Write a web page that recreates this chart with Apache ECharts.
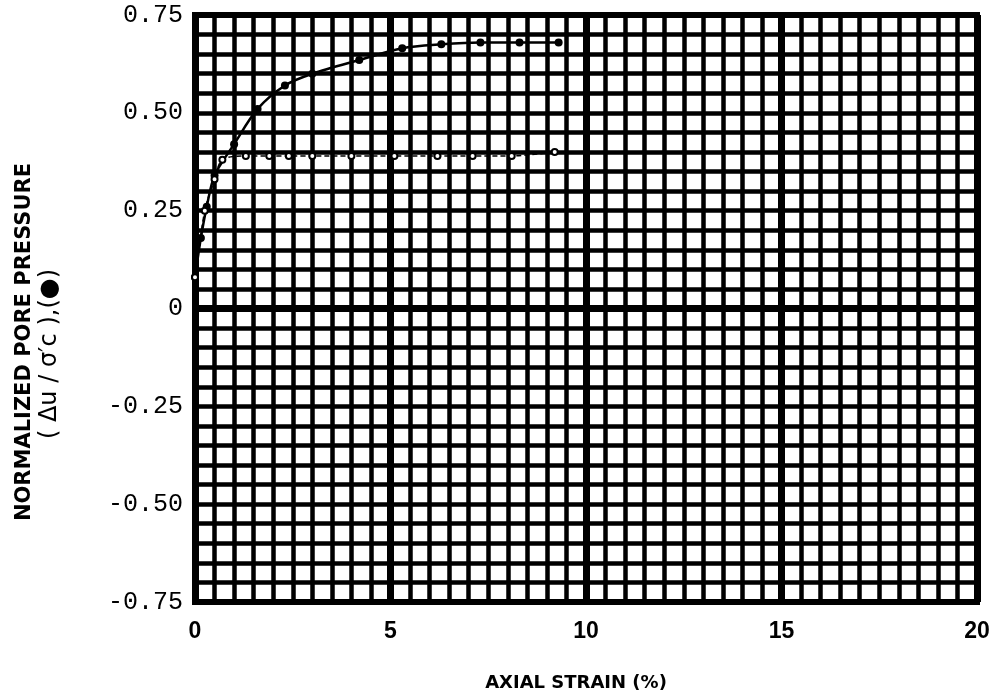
<!DOCTYPE html>
<html>
<head>
<meta charset="utf-8">
<title>Normalized pore pressure vs axial strain</title>
<script src="https://cdn.jsdelivr.net/npm/echarts@6/dist/echarts.min.js"></script>
<style>
    html, body {
        margin: 0;
        padding: 0;
        background: #fff;
    }

    #chart {
        width: 1000px;
        height: 698px;
    }
</style>
</head>
<body>
<div id="chart"></div>
<script>
// axial strain (%) / normalized pore pressure
const filledStrain = [0, 0.15, 0.3, 0.5, 1.0, 1.6, 2.3, 3.0, 4.2, 5.3, 6.3, 7.3, 8.3, 9.3]
const filledPressure = [0.08, 0.18, 0.26, 0.34, 0.42, 0.51, 0.57, 0.60, 0.635, 0.665, 0.675, 0.68, 0.68, 0.68]

const openStrain = [0, 0.25, 0.5, 0.7, 1.3, 1.9, 2.4, 3.0, 4.0, 5.1, 6.2, 7.1, 8.1, 9.2]
const openPressure = [0.08, 0.25, 0.33, 0.38, 0.39, 0.39, 0.39, 0.39, 0.39, 0.39, 0.39, 0.39, 0.39, 0.40]

const xTicks = [0, 5, 10, 15, 20]
const yTicks = [-0.75, -0.5, -0.25, 0, 0.25, 0.5, 0.75]

const pairUp = (xs, ys) => xs.map((x, i) => [x, ys[i]])

const chart = echarts.init(document.getElementById('chart'))

const options = {
    backgroundColor: '#fff',
    animation: false,
    grid: {
        left: 195,
        right: 23,
        top: 15,
        bottom: 96,
        show: true,
        borderColor: '#000',
        borderWidth: 6
    },
    xAxis: {
        type: 'value',
        min: xTicks[0],
        max: xTicks[xTicks.length - 1],
        interval: 5,
        axisLine: {show: true, lineStyle: {color: '#000', width: 6}},
        axisTick: {show: false},
        axisLabel: {
            color: '#000',
            fontFamily: 'Liberation Sans',
            fontWeight: 'bold',
            fontSize: 23,
            margin: 18
        },
        splitLine: {show: true, lineStyle: {color: '#000', width: 7}},
        minorTick: {show: false, splitNumber: 10},
        minorSplitLine: {show: true, lineStyle: {color: '#000', width: 4.5}}
    },
    yAxis: {
        type: 'value',
        min: yTicks[0],
        max: yTicks[yTicks.length - 1],
        interval: 0.25,
        axisLine: {show: true, lineStyle: {color: '#000', width: 6}},
        axisTick: {show: false},
        axisLabel: {
            color: '#000',
            fontFamily: 'Liberation Mono',
            fontSize: 25,
            margin: 12,
            formatter: (v) => v === 0 ? '0' : v.toFixed(2)
        },
        splitLine: {show: true, lineStyle: {color: '#000', width: 4.5}},
        minorTick: {show: false, splitNumber: 5},
        minorSplitLine: {show: true, lineStyle: {color: '#000', width: 4.5}}
    },
    series: [
        {
            name: 'filled',
            type: 'line',
            data: pairUp(filledStrain, filledPressure),
            smooth: 0.3,
            symbol: 'circle',
            symbolSize: 8,
            itemStyle: {color: '#000'},
            lineStyle: {color: '#000', width: 2.5},
            z: 5
        },
        {
            name: 'open',
            type: 'line',
            data: pairUp(openStrain, openPressure),
            smooth: 0.3,
            symbol: 'emptyCircle',
            symbolSize: 6,
            itemStyle: {color: '#000', borderWidth: 1.5},
            lineStyle: {color: '#000', width: 1.5, type: [5, 3]},
            z: 5,
            markLine: {
                silent: true,
                symbol: 'none',
                label: {show: false},
                lineStyle: {color: '#000', width: 7, type: 'solid'},
                data: [{yAxis: 0}]
            }
        }
    ],
    graphic: [
        {
            type: 'text',
            x: 25,
            y: 342,
            rotation: Math.PI / 2,
            style: {
                text: 'NORMALIZED PORE PRESSURE',
                fontFamily: 'DejaVu Sans',
                fontWeight: 'bold',
                fontSize: 21,
                fill: '#000',
                textAlign: 'center',
                textVerticalAlign: 'middle'
            }
        },
        {
            type: 'text',
            x: 50,
            y: 354,
            rotation: Math.PI / 2,
            style: {
                text: '( Δu / σ′c ),(●)',
                fontFamily: 'DejaVu Sans',
                fontSize: 24,
                fill: '#000',
                textAlign: 'center',
                textVerticalAlign: 'middle'
            }
        },
        {
            type: 'text',
            x: 576,
            y: 683,
            style: {
                text: 'AXIAL STRAIN (%)',
                fontFamily: 'DejaVu Sans',
                fontWeight: 'bold',
                fontSize: 18,
                fill: '#000',
                textAlign: 'center',
                textVerticalAlign: 'middle'
            }
        }
    ]
}

chart.setOption(options)
</script>
</body>
</html>
